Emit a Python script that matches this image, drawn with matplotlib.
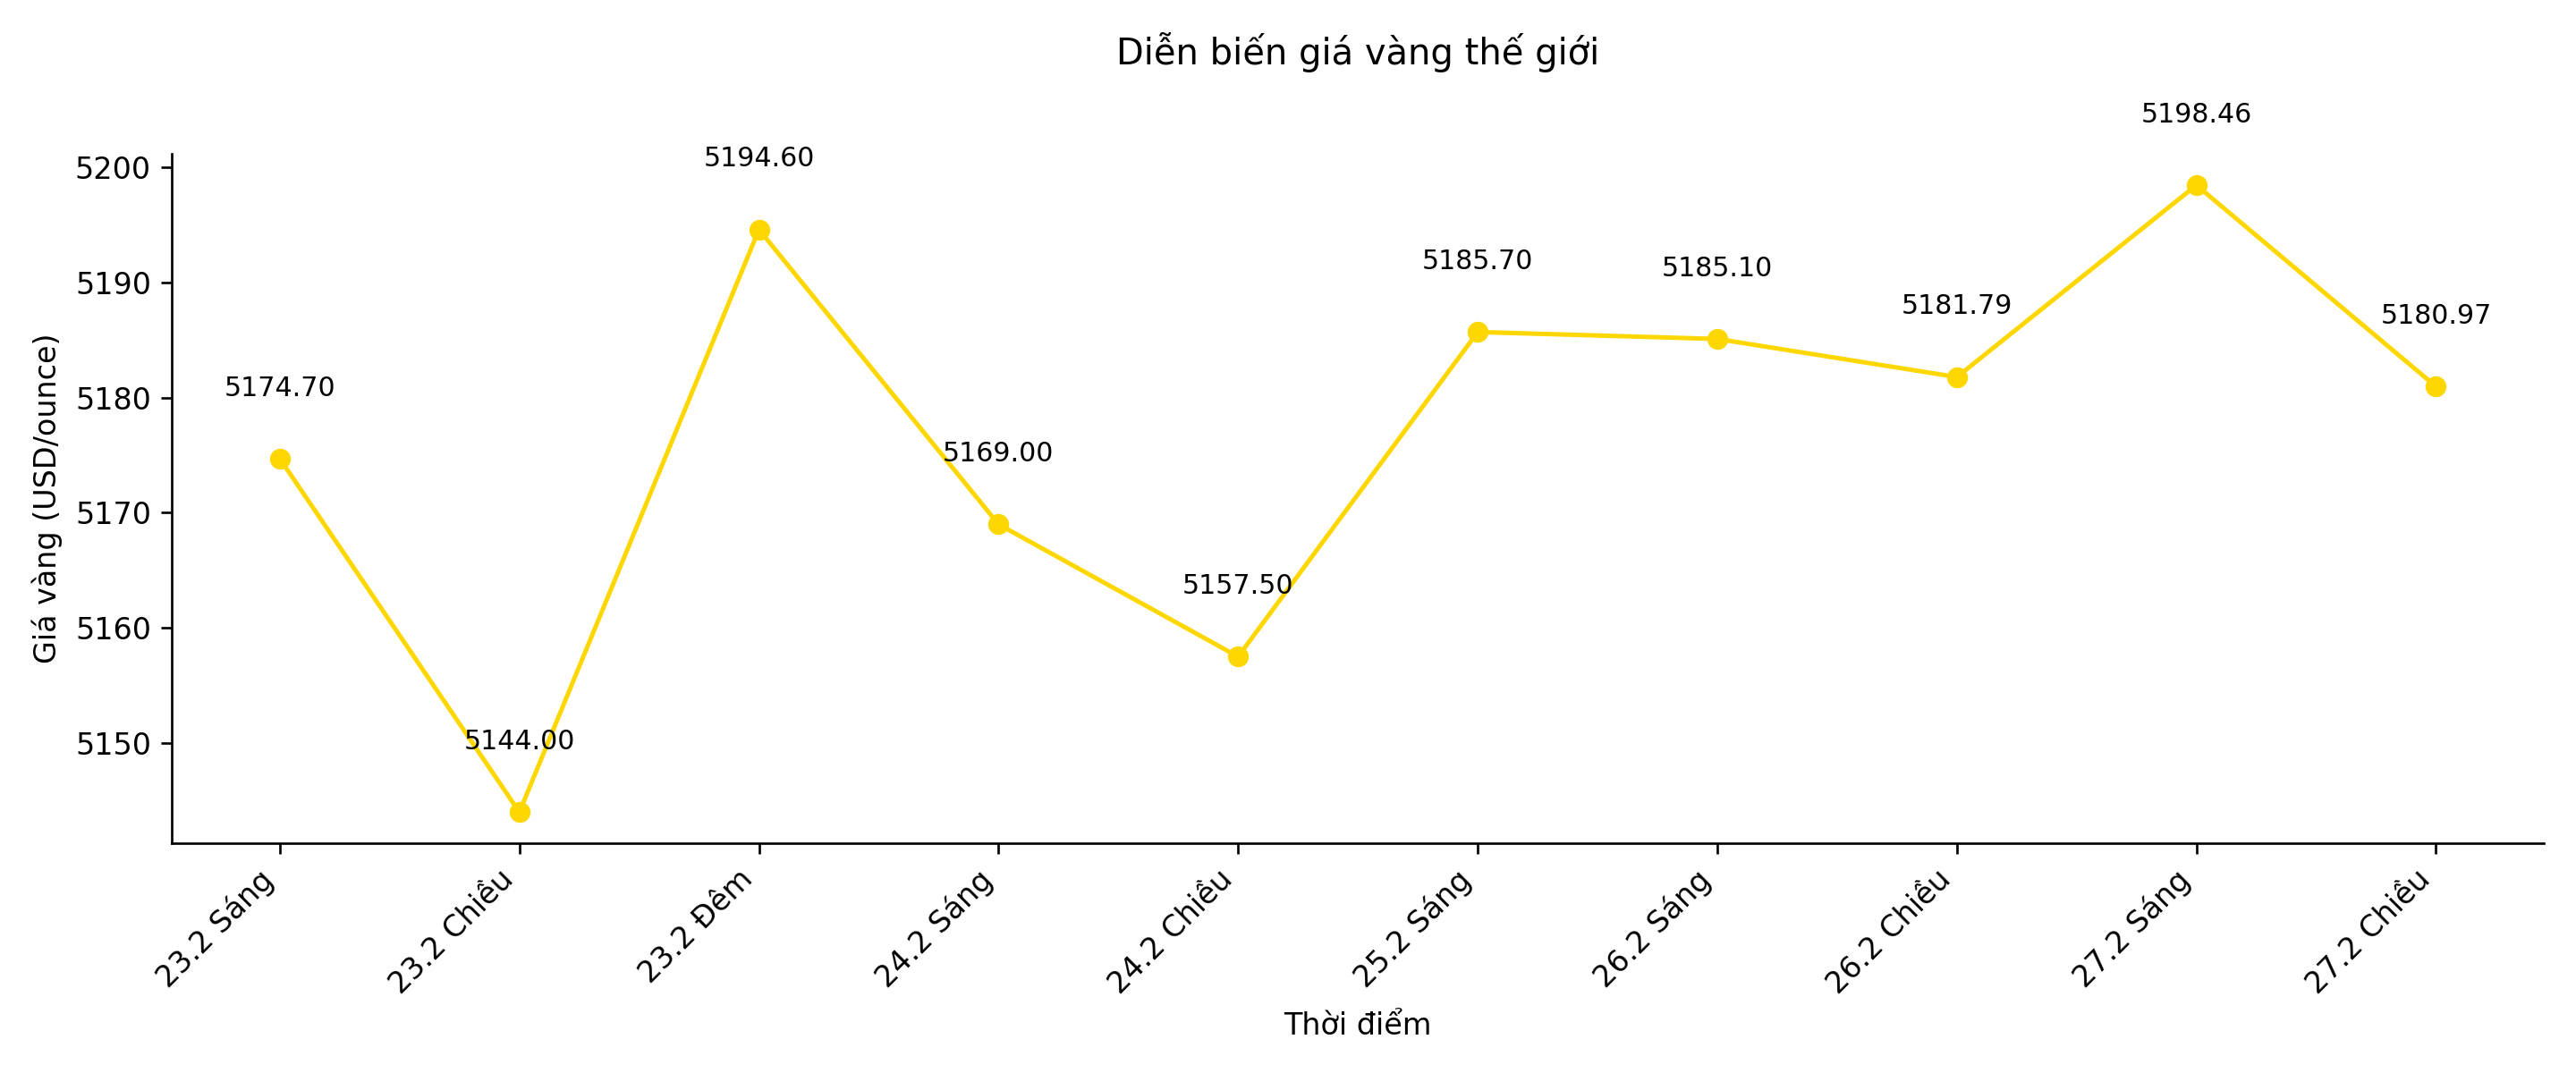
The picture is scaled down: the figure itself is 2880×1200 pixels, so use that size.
import matplotlib.pyplot as plt

labels = ['23.2 Sáng', '23.2 Chiều', '23.2 Đêm', '24.2 Sáng', '24.2 Chiều',
          '25.2 Sáng', '26.2 Sáng', '26.2 Chiều', '27.2 Sáng', '27.2 Chiều']
prices = [5174.70, 5144.00, 5194.60, 5169.00, 5157.50,
          5185.70, 5185.10, 5181.79, 5198.46, 5180.97]

fig, ax = plt.subplots(figsize=(12, 5), dpi=240)
x = range(len(labels))
ax.plot(x, prices, color='#FFD700', marker='o', linewidth=1.5, markersize=6)
for i, p in zip(x, prices):
    ax.text(i, p + 5, f'{p:.2f}', ha='center', va='bottom', fontsize=9)

ax.set_xticks(list(x))
ax.set_xticklabels(labels, rotation=45, ha='right')
ax.set_xlabel('Thời điểm')
ax.set_ylabel('Giá vàng (USD/ounce)')
ax.set_title('Diễn biến giá vàng thế giới', pad=30)
ax.spines['top'].set_visible(False)
ax.spines['right'].set_visible(False)
plt.tight_layout()
plt.savefig('out.png')
